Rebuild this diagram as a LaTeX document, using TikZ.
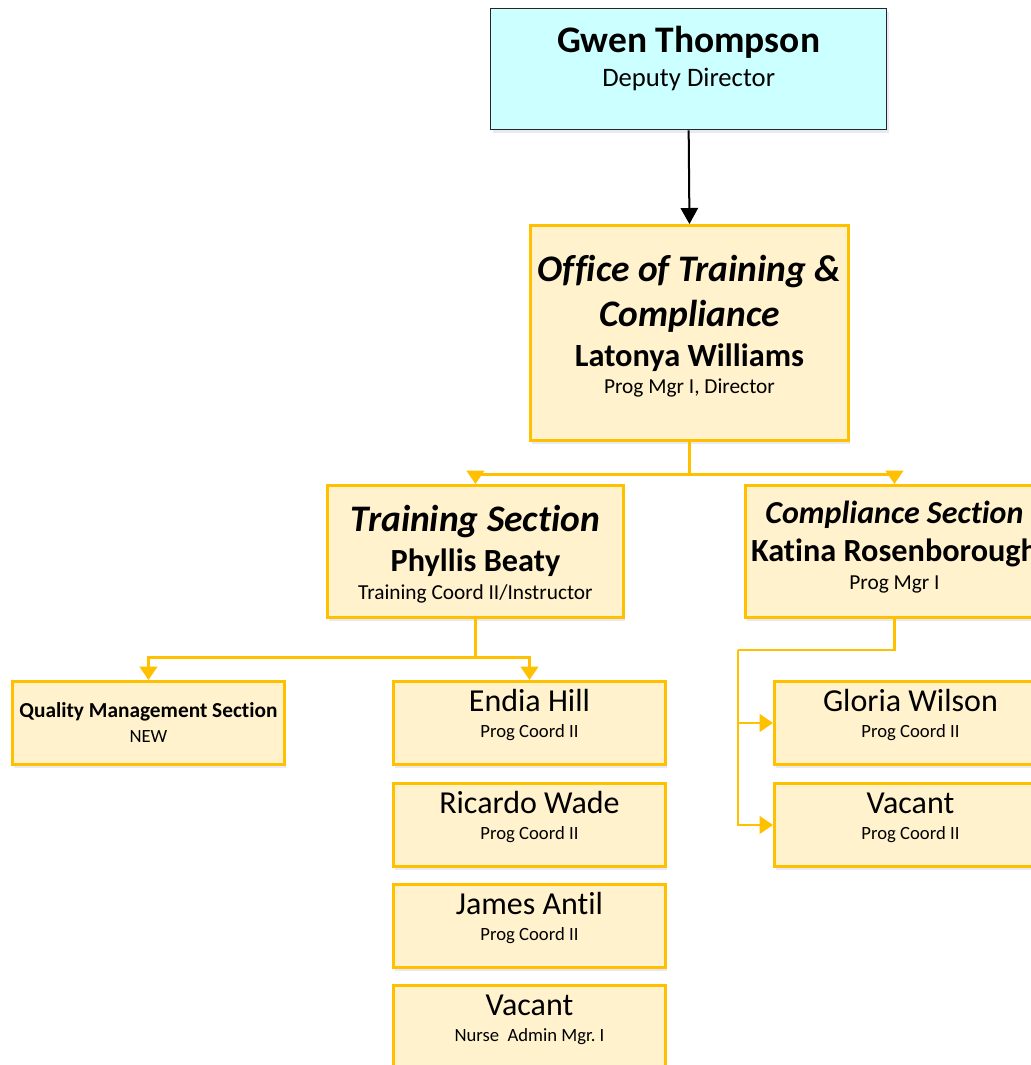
\documentclass[tikz,border=0pt]{standalone}
\usepackage{fontspec}
\setmainfont{Carlito}[RawFeature={-liga}]
\usetikzlibrary{arrows.meta,shadows}
\definecolor{gold}{HTML}{FFC000}
\definecolor{cream}{HTML}{FFF2CC}
\definecolor{skyfill}{HTML}{CCFFFF}

\begin{document}
\begin{tikzpicture}[x=0.75pt,y=-0.75pt,
  orgbox/.style={draw=gold,line width=2.2pt,fill=cream,inner sep=0pt,anchor=north west,
    drop shadow={shadow xshift=1.5pt,shadow yshift=-2.5pt,opacity=0.12,fill=blue!40!gray}},
  topbox/.style={orgbox,draw=black!85,line width=1pt,fill=skyfill},
  goldline/.style={draw=gold,line width=2.2pt},
  goldarrow/.style={goldline,-{Triangle[width=13pt,length=10pt]}}]
\path[use as bounding box,clip] (0,0) rectangle (1031,1065);

\node[topbox] (gwen) at (490,8) {\parbox[c][90.75pt][t]{297pt}{\centering
  {\fontsize{28.1}{33}\selectfont\bfseries\rule{0pt}{33pt}Gwen Thompson\par}
  {\fontsize{20}{25.5}\selectfont Deputy Director\par}}};

\node[orgbox] (office) at (529,224) {\parbox[c][161.25pt][t]{238.5pt}{\centering
  {\fontsize{28.1}{33}\selectfont\bfseries\itshape\rule{0pt}{42pt}Office of Training \&\par}
  {\fontsize{28.1}{33.75}\selectfont\bfseries\itshape Compliance\par}
  {\fontsize{24.3}{30}\selectfont\bfseries Latonya Williams\par}
  {\fontsize{16}{20.25}\selectfont Prog Mgr I, Director\par}}};

\node[orgbox] (train) at (326,484) {\parbox[c][99pt][t]{222pt}{\centering
  {\fontsize{28.1}{33}\selectfont\bfseries\itshape\rule{0pt}{34.5pt}Training Section\par}
  {\fontsize{24.2}{30}\selectfont\bfseries Phyllis Beaty\par}
  {\fontsize{16}{21}\selectfont Training Coord II/Instructor\par}}};

\node[orgbox] (comp) at (744,484) {\parbox[c][99pt][t]{223.5pt}{\centering
  {\fontsize{24}{28}\selectfont\bfseries\itshape\rule{0pt}{28.5pt}Compliance Section\par}
  {\fontsize{24.2}{28.5}\selectfont\bfseries Katina Rosenborough\par}
  {\fontsize{16}{21}\selectfont Prog Mgr I\par}}};

\node[orgbox] (qms) at (11,680) {\parbox[c][62.25pt][t]{204pt}{\centering
  {\fontsize{16}{18}\selectfont\bfseries\rule{0pt}{27pt}Quality Management Section\par}
  {\fontsize{14}{18.75}\selectfont NEW\par}}};

\node[orgbox] (endia) at (392,680) {\parbox[c][62.25pt][t]{204pt}{\centering
  {\fontsize{24}{28}\selectfont\rule{0pt}{22.5pt}Endia Hill\par}
  {\fontsize{14}{19.5}\selectfont Prog Coord II\par}}};

\node[orgbox] (ricardo) at (392,782) {\parbox[c][62.25pt][t]{204pt}{\centering
  {\fontsize{24}{28}\selectfont\rule{0pt}{22.5pt}Ricardo Wade\par}
  {\fontsize{14}{19.5}\selectfont Prog Coord II\par}}};

\node[orgbox] (james) at (392,883) {\parbox[c][62.25pt][t]{204pt}{\centering
  {\fontsize{24}{28}\selectfont\rule{0pt}{22.5pt}James Antil\par}
  {\fontsize{14}{19.5}\selectfont Prog Coord II\par}}};

\node[orgbox] (nurse) at (392,984) {\parbox[c][62.25pt][t]{204pt}{\centering
  {\fontsize{24}{28}\selectfont\rule{0pt}{22.5pt}Vacant\par}
  {\fontsize{14}{19.5}\selectfont Nurse\ \ Admin Mgr.\ I\par}}};

\node[orgbox] (gloria) at (773,680) {\parbox[c][62.25pt][t]{204pt}{\centering
  {\fontsize{24}{28}\selectfont\rule{0pt}{22.5pt}Gloria Wilson\par}
  {\fontsize{14}{19.5}\selectfont Prog Coord II\par}}};

\node[orgbox] (compvac) at (773,782) {\parbox[c][62.25pt][t]{204pt}{\centering
  {\fontsize{24}{28}\selectfont\rule{0pt}{22.5pt}Vacant\par}
  {\fontsize{14}{19.5}\selectfont Prog Coord II\par}}};

\draw[line width=1.5pt,-{Triangle[width=13pt,length=12pt]}] (gwen.south) -- (office.north);

\draw[goldarrow] (office.south) -- ++(0,33) -| (train.north);
\draw[goldarrow] (office.south) -- ++(0,33) -| (comp.north);

\draw[goldarrow] (train.south) -- ++(0,39) -| (qms.north);
\draw[goldarrow] (train.south) -- ++(0,39) -| (endia.north);

\coordinate (cbus) at (738,650);
\draw[goldline] (comp.south) |- (cbus);
\draw[goldarrow] (cbus) |- (gloria.west);
\draw[goldarrow] (cbus) |- (compvac.west);
\end{tikzpicture}
\end{document}
